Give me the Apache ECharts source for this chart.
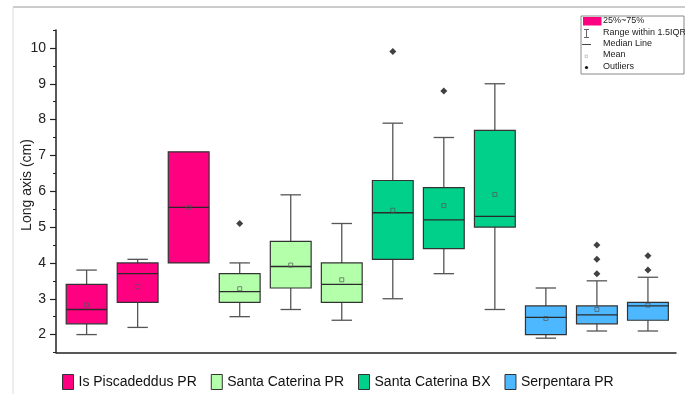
<!DOCTYPE html>
<html>
<head>
<meta charset="utf-8">
<script src="https://cdn.jsdelivr.net/npm/echarts@6/dist/echarts.min.js"></script>
<style>
  html, body { margin: 0; padding: 0; background: #fff; }
  #chart { width: 685px; height: 394px; }
</style>
</head>
<body>
<div id="chart"></div>
<script>
// Sites, three samples each
const sites = ['Is Piscadeddus PR', 'Santa Caterina PR', 'Santa Caterina BX', 'Serpentara PR'];
const siteColors = ['#ff0080', '#b3ffaa', '#00d08a', '#4db8ff'];

// Box statistics per sample: [min, Q1, median, Q3, max]
const piscadeddusStats = [[2.0, 2.3, 2.7, 3.4, 3.8], [2.2, 2.9, 3.7, 4.0, 4.1], [4.0, 4.0, 5.55, 7.1, 7.1]];
const caterinaPRStats  = [[2.5, 2.9, 3.2, 3.7, 4.0], [2.7, 3.3, 3.9, 4.6, 5.9], [2.4, 2.9, 3.4, 4.0, 5.1]];
const caterinaBXStats  = [[3.0, 4.1, 5.4, 6.3, 7.9], [3.7, 4.4, 5.2, 6.1, 7.5], [2.7, 5.0, 5.3, 7.7, 9.0]];
const serpentaraStats  = [[1.9, 2.0, 2.48, 2.8, 3.3], [2.1, 2.3, 2.55, 2.8, 3.5], [2.1, 2.4, 2.8, 2.9, 3.6]];

// Sample means
const piscadeddusMeans = [2.83, 3.34, 5.55];
const caterinaPRMeans  = [3.28, 3.94, 3.53];
const caterinaBXMeans  = [5.47, 5.6, 5.91];
const serpentaraMeans  = [2.45, 2.7, 2.82];

// Outliers per sample
const piscadeddusOutliers = [[], [], []];
const caterinaPROutliers  = [[5.1], [], []];
const caterinaBXOutliers  = [[9.9], [8.8], []];
const serpentaraOutliers  = [[], [3.7, 4.1, 4.5], [3.8, 4.2]];

// Y axis ticks
const yMajorTicks = [2, 3, 4, 5, 6, 7, 8, 9, 10];
const yMinorTicks = [1.5, 2.5, 3.5, 4.5, 5.5, 6.5, 7.5, 8.5, 9.5, 10.5];

const statsBySite = [piscadeddusStats, caterinaPRStats, caterinaBXStats, serpentaraStats];
const meansBySite = [piscadeddusMeans, caterinaPRMeans, caterinaBXMeans, serpentaraMeans];
const outliersBySite = [piscadeddusOutliers, caterinaPROutliers, caterinaBXOutliers, serpentaraOutliers];

const FONT = 'Liberation Sans, Arial, sans-serif';
const BOX_FRACTION = 0.8;

function renderBox(params, api) {
  const x = api.value(0);
  const pt = (k) => api.coord([x, api.value(k)]);
  const halfW = api.size([BOX_FRACTION, 0])[0] / 2;
  const capW = halfW / 2;
  const pMin = pt(1), pQ1 = pt(2), pMed = pt(3), pQ3 = pt(4), pMax = pt(5), pMean = pt(6);
  const cx = pMed[0];
  const whisker = { stroke: '#555', lineWidth: 1.3 };
  const children = [];
  if (pMax[1] < pQ3[1] - 0.5) {
    children.push({ type: 'line', shape: { x1: cx, y1: pMax[1], x2: cx, y2: pQ3[1] }, style: whisker });
    children.push({ type: 'line', shape: { x1: cx - capW, y1: pMax[1], x2: cx + capW, y2: pMax[1] }, style: whisker });
  }
  if (pMin[1] > pQ1[1] + 0.5) {
    children.push({ type: 'line', shape: { x1: cx, y1: pQ1[1], x2: cx, y2: pMin[1] }, style: whisker });
    children.push({ type: 'line', shape: { x1: cx - capW, y1: pMin[1], x2: cx + capW, y2: pMin[1] }, style: whisker });
  }
  children.push({
    type: 'rect',
    shape: { x: cx - halfW, y: pQ3[1], width: halfW * 2, height: pQ1[1] - pQ3[1] },
    style: { fill: api.visual('color'), stroke: '#333', lineWidth: 1.2 }
  });
  children.push({ type: 'line', shape: { x1: cx - halfW, y1: pMed[1], x2: cx + halfW, y2: pMed[1] }, style: { stroke: '#2a2a2a', lineWidth: 1.3 } });
  children.push({ type: 'rect', shape: { x: cx - 2, y: pMean[1] - 2, width: 4, height: 4 }, style: { fill: 'none', stroke: '#555', lineWidth: 0.7 } });
  return { type: 'group', children };
}

const series = [];
sites.forEach((name, s) => {
  const data = statsBySite[s].map((st, j) => [s * 3 + j + 1, ...st, meansBySite[s][j]]);
  series.push({
    name,
    type: 'custom',
    renderItem: renderBox,
    itemStyle: { color: siteColors[s], borderColor: '#333', borderWidth: 1 },
    encode: { x: 0, y: [1, 2, 3, 4, 5, 6] },
    data,
    z: 2
  });
});

const outlierPoints = [];
outliersBySite.forEach((list, s) => list.forEach((vals, j) => vals.forEach(v => outlierPoints.push([s * 3 + j + 1, v]))));
series.push({
  name: 'Outliers',
  type: 'scatter',
  symbol: 'diamond',
  symbolSize: 7,
  itemStyle: { color: '#111' },
  data: outlierPoints,
  z: 3
});

// Key box in the upper right corner
const keyX = 581, keyY = 16;
const keyText = (t, y) => ({ type: 'text', left: 603, top: y - 5.5, style: { text: t, font: '9px ' + FONT, fill: '#222' } });
const keyGraphics = [
  { type: 'rect', shape: { x: keyX, y: keyY, width: 103, height: 58 }, style: { fill: '#fff', stroke: '#888', lineWidth: 1 } },
  { type: 'rect', shape: { x: 583, y: 17, width: 18.5, height: 8.5 }, style: { fill: siteColors[0] } },
  keyText('25%~75%', 22),
  { type: 'line', shape: { x1: 586.5, y1: 29.5, x2: 586.5, y2: 37.5 }, style: { stroke: '#666', lineWidth: 1 } },
  { type: 'line', shape: { x1: 584, y1: 29.5, x2: 589, y2: 29.5 }, style: { stroke: '#666', lineWidth: 1 } },
  { type: 'line', shape: { x1: 584, y1: 37.5, x2: 589, y2: 37.5 }, style: { stroke: '#666', lineWidth: 1 } },
  keyText('Range within 1.5IQR', 33.5),
  { type: 'line', shape: { x1: 582, y1: 44.5, x2: 591, y2: 44.5 }, style: { stroke: '#444', lineWidth: 1 } },
  keyText('Median Line', 44.5),
  { type: 'rect', shape: { x: 585, y: 55, width: 2.5, height: 2.5 }, style: { fill: 'none', stroke: '#aaa', lineWidth: 0.6 } },
  keyText('Mean', 56),
  { type: 'circle', shape: { cx: 586.5, cy: 67.5, r: 1.6 }, style: { fill: '#111' } },
  keyText('Outliers', 67.5)
];

const chart = echarts.init(document.getElementById('chart'), null, { renderer: 'canvas' });
chart.setOption({
  animation: false,
  backgroundColor: '#fff',
  textStyle: { fontFamily: FONT },
  grid: { left: 56, right: 9, top: 30, bottom: 41.5, containLabel: false },
  xAxis: {
    type: 'value',
    min: 0.4,
    max: 12.55,
    axisLine: { show: true, lineStyle: { color: '#222', width: 1.5 } },
    axisTick: { show: false },
    axisLabel: { show: false },
    splitLine: { show: false }
  },
  yAxis: [
    {
      type: 'value',
      min: 1.5,
      max: 10.5,
      axisLine: { show: true, lineStyle: { color: '#222', width: 1.5 } },
      axisTick: { show: true, inside: false, length: 6, customValues: yMajorTicks, lineStyle: { color: '#222', width: 1.2 } },
      axisLabel: { show: true, customValues: yMajorTicks, margin: 10, fontSize: 14, color: '#222', fontFamily: FONT },
      splitLine: { show: false }
    },
    {
      type: 'value',
      min: 1.5,
      max: 10.5,
      position: 'left',
      axisLine: { show: false },
      axisTick: { show: true, inside: false, length: 3, customValues: yMinorTicks, lineStyle: { color: '#222', width: 1 } },
      axisLabel: { show: false },
      splitLine: { show: false }
    }
  ],
  legend: {
    data: sites,
    left: 57,
    top: 369,
    icon: 'rect',
    itemWidth: 11,
    itemHeight: 15,
    itemGap: 14,
    textStyle: { fontSize: 14, color: '#111', fontFamily: FONT },
    itemStyle: { borderColor: '#333', borderWidth: 1 }
  },
  graphic: [
    { type: 'line', shape: { x1: 13, y1: 7, x2: 685, y2: 7 }, style: { stroke: '#999', lineWidth: 1 } },
    { type: 'line', shape: { x1: 13, y1: 7, x2: 13, y2: 394 }, style: { stroke: '#ddd', lineWidth: 1 } },
    { type: 'text', x: 27, y: 185, rotation: Math.PI / 2, style: { text: 'Long axis (cm)', font: '14px ' + FONT, fill: '#222', align: 'center', verticalAlign: 'middle' } },
    ...keyGraphics
  ],
  series
});
</script>
</body>
</html>
